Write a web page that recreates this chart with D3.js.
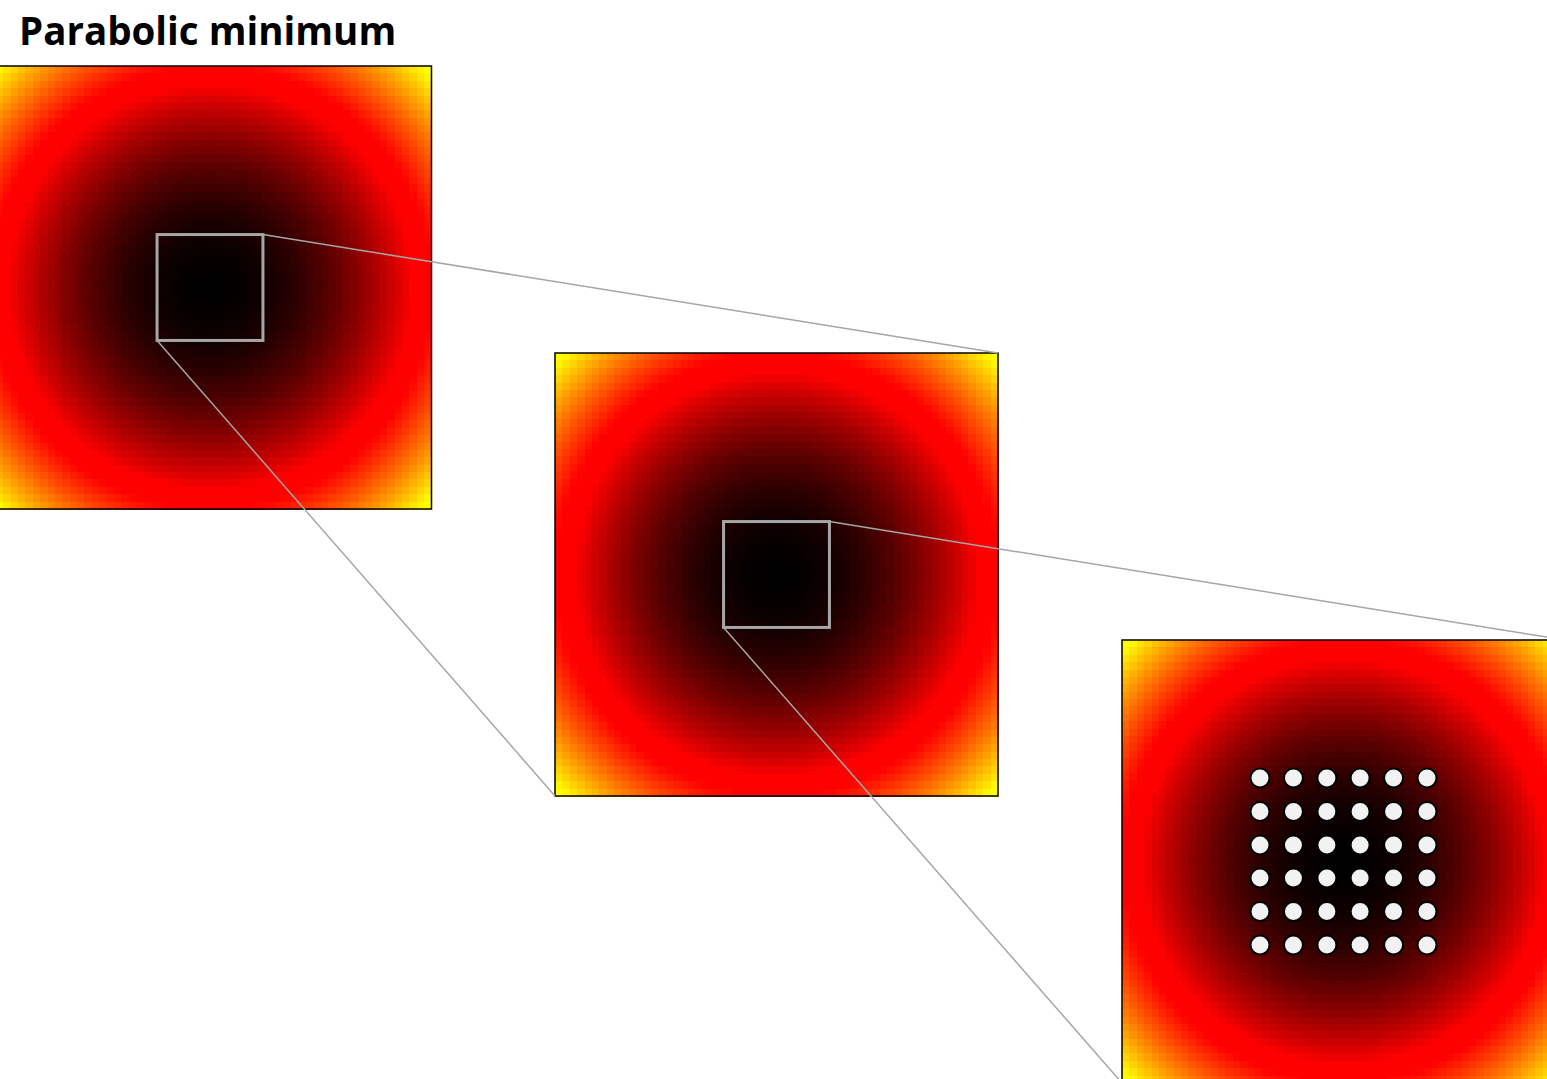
<!DOCTYPE html>
<html>
<head>
<meta charset="utf-8">
<script src="https://cdn.jsdelivr.net/npm/d3@7"></script>
<style>
  html, body { margin: 0; padding: 0; background: #fff; overflow: hidden; }
  svg { display: block; }
</style>
</head>
<body>
<svg id="chart" width="1547" height="1079"></svg>
<script>
// Surface z = (x^2 + y^2) / 2 sampled on a square grid over [-1, 1]
const titleText = "Parabolic minimum";
const gridSize = 60;
const domainExtent = [-1, 1];
// Each successive panel shows the region marked by the grey box of the previous one
const zoomBoxHalf = 0.239;
// Centres of the three panels (pixels)
const panelCentersX = [210, 776.5, 1343.5];
const panelCentersY = [287.5, 574.5, 861.5];
// Sample points drawn on the last panel
const sampleX = [-0.377, -0.226, -0.075, 0.075, 0.226, 0.377];
const sampleY = [-0.377, -0.226, -0.075, 0.075, 0.226, 0.377];
// Colour stops: black -> red -> yellow
const colorStops = [0, 0.42, 0.5, 0.95];
const colorValues = ["#000000", "#ff0000", "#ff0000", "#ffff00"];

const panelSize = 443;
const svg = d3.select("#chart");

const color = d3.scaleLinear().domain(colorStops).range(colorValues).clamp(true);

// Grid of cell indices and their surface values
const idx = d3.range(gridSize);
const step = (domainExtent[1] - domainExtent[0]) / gridSize;
const cells = [];
idx.forEach(i => idx.forEach(j => {
  const x = domainExtent[0] + (i + 0.5) * step;
  const y = domainExtent[0] + (j + 0.5) * step;
  cells.push({ i, j, z: (x * x + y * y) / 2 });
}));

function drawPanel(g) {
  const band = d3.scaleBand().domain(idx).range([0, panelSize]);
  g.selectAll("rect.cell")
    .data(cells)
    .join("rect")
    .attr("class", "cell")
    .attr("x", d => band(d.i))
    .attr("y", d => band(d.j))
    .attr("width", band.bandwidth() + 0.5)
    .attr("height", band.bandwidth() + 0.5)
    .attr("fill", d => color(d.z))
    .attr("shape-rendering", "crispEdges");
  g.append("rect")
    .attr("width", panelSize)
    .attr("height", panelSize)
    .attr("fill", "none")
    .attr("stroke", "#000")
    .attr("stroke-width", 1.5);
}

const panels = panelCentersX.map((cx, k) => {
  const x0 = cx - panelSize / 2;
  const y0 = panelCentersY[k] - panelSize / 2;
  const xs = d3.scaleLinear().domain(domainExtent).range([x0, x0 + panelSize]);
  const ys = d3.scaleLinear().domain(domainExtent).range([y0, y0 + panelSize]);
  return { x0, y0, xs, ys };
});

panels.forEach(p => {
  const g = svg.append("g").attr("transform", `translate(${p.x0},${p.y0})`);
  drawPanel(g);
});

// Connector lines from each zoom box to the next panel
const lineLayer = svg.append("g");
panels.slice(0, -1).forEach((p, k) => {
  const n = panels[k + 1];
  lineLayer.append("line")
    .attr("x1", p.xs(zoomBoxHalf)).attr("y1", p.ys(-zoomBoxHalf))
    .attr("x2", n.xs(1)).attr("y2", n.ys(-1))
    .attr("stroke", "#a6a6a6").attr("stroke-width", 1.5);
  lineLayer.append("line")
    .attr("x1", p.xs(-zoomBoxHalf)).attr("y1", p.ys(zoomBoxHalf))
    .attr("x2", n.xs(-1)).attr("y2", n.ys(1))
    .attr("stroke", "#a6a6a6").attr("stroke-width", 1.5);
  lineLayer.append("rect")
    .attr("x", p.xs(-zoomBoxHalf)).attr("y", p.ys(-zoomBoxHalf))
    .attr("width", p.xs(zoomBoxHalf) - p.xs(-zoomBoxHalf))
    .attr("height", p.ys(zoomBoxHalf) - p.ys(-zoomBoxHalf))
    .attr("fill", "none")
    .attr("stroke", "#a6a6a6").attr("stroke-width", 3);
});

// Sample points on the innermost panel
const last = panels[panels.length - 1];
const pts = [];
sampleY.forEach(y => sampleX.forEach(x => pts.push({ x, y })));
svg.append("g").selectAll("circle")
  .data(pts)
  .join("circle")
  .attr("cx", d => last.xs(d.x))
  .attr("cy", d => last.ys(d.y))
  .attr("r", 9.5)
  .attr("fill", "#f2f2f2")
  .attr("stroke", "#000")
  .attr("stroke-width", 2);

svg.append("text")
  .attr("x", 19)
  .attr("y", 45)
  .attr("font-family", "'Open Sans', sans-serif")
  .attr("font-weight", "bold")
  .attr("font-size", 38.5)
  .attr("fill", "#000")
  .text(titleText);
</script>
</body>
</html>
